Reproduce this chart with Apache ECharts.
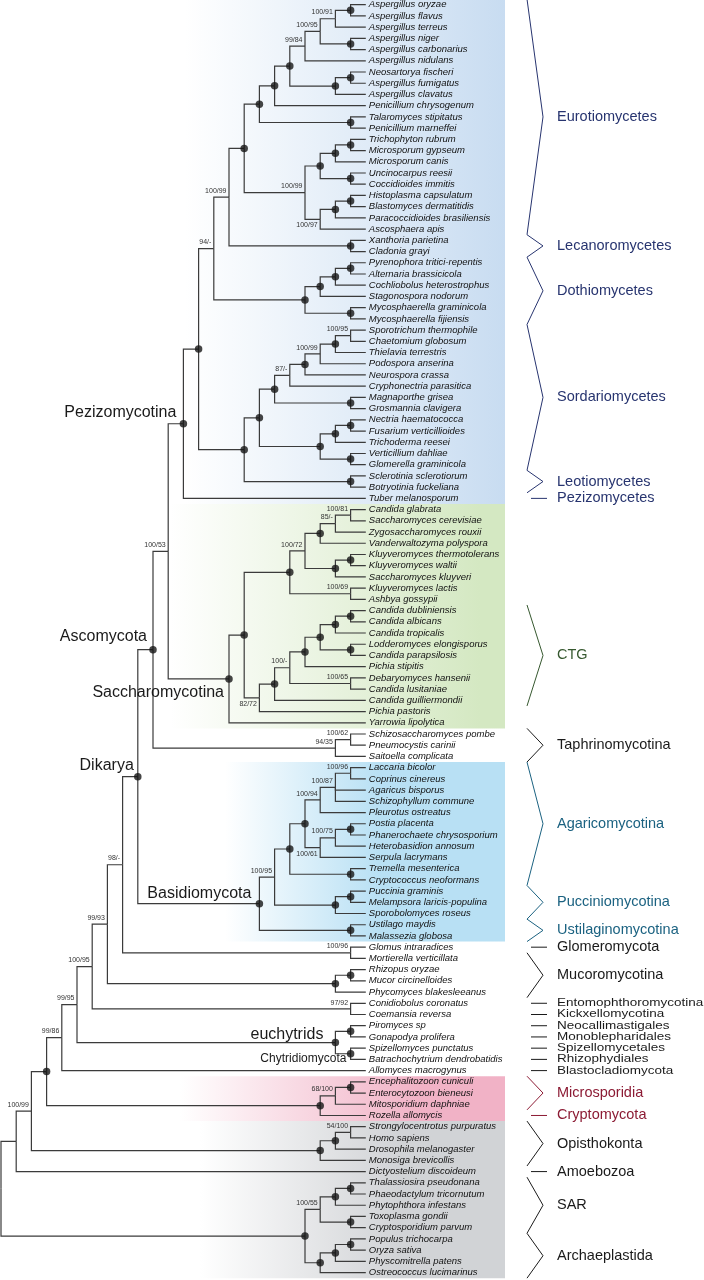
<!DOCTYPE html>
<html>
<head>
<meta charset="utf-8">
<script src="https://cdn.jsdelivr.net/npm/echarts@6/dist/echarts.min.js"></script>
<style>
  html, body { margin: 0; padding: 0; background: #fff; }
  #chart { width: 704px; height: 1280px; }
</style>
</head>
<body>
<div id="chart"></div>
<script>
// tip names, top to bottom
const species = [
  "Aspergillus oryzae", "Aspergillus flavus", "Aspergillus terreus", "Aspergillus niger",
  "Aspergillus carbonarius", "Aspergillus nidulans", "Neosartorya fischeri", "Aspergillus fumigatus",
  "Aspergillus clavatus", "Penicillium chrysogenum", "Talaromyces stipitatus", "Penicillium marneffei",
  "Trichophyton rubrum", "Microsporum gypseum", "Microsporum canis", "Uncinocarpus reesii",
  "Coccidioides immitis", "Histoplasma capsulatum", "Blastomyces dermatitidis", "Paracoccidioides brasiliensis",
  "Ascosphaera apis", "Xanthoria parietina", "Cladonia grayi", "Pyrenophora tritici-repentis",
  "Alternaria brassicicola", "Cochliobolus heterostrophus", "Stagonospora nodorum", "Mycosphaerella graminicola",
  "Mycosphaerella fijiensis", "Sporotrichum thermophile", "Chaetomium globosum", "Thielavia terrestris",
  "Podospora anserina", "Neurospora crassa", "Cryphonectria parasitica", "Magnaporthe grisea",
  "Grosmannia clavigera", "Nectria haematococca", "Fusarium verticillioides", "Trichoderma reesei",
  "Verticillium dahliae", "Glomerella graminicola", "Sclerotinia sclerotiorum", "Botryotinia fuckeliana",
  "Tuber melanosporum", "Candida glabrata", "Saccharomyces cerevisiae", "Zygosaccharomyces rouxii",
  "Vanderwaltozyma polyspora", "Kluyveromyces thermotolerans", "Kluyveromyces waltii", "Saccharomyces kluyveri",
  "Kluyveromyces lactis", "Ashbya gossypii", "Candida dubliniensis", "Candida albicans",
  "Candida tropicalis", "Lodderomyces elongisporus", "Candida parapsilosis", "Pichia stipitis",
  "Debaryomyces hansenii", "Candida lusitaniae", "Candida guilliermondii", "Pichia pastoris",
  "Yarrowia lipolytica", "Schizosaccharomyces pombe", "Pneumocystis carinii", "Saitoella complicata",
  "Laccaria bicolor", "Coprinus cinereus", "Agaricus bisporus", "Schizophyllum commune",
  "Pleurotus ostreatus", "Postia placenta", "Phanerochaete chrysosporium", "Heterobasidion annosum",
  "Serpula lacrymans", "Tremella mesenterica", "Cryptococcus neoformans", "Puccinia graminis",
  "Melampsora laricis-populina", "Sporobolomyces roseus", "Ustilago maydis", "Malassezia globosa",
  "Glomus intraradices", "Mortierella verticillata", "Rhizopus oryzae", "Mucor circinelloides",
  "Phycomyces blakesleeanus", "Conidiobolus coronatus", "Coemansia reversa", "Piromyces sp",
  "Gonapodya prolifera", "Spizellomyces punctatus", "Batrachochytrium dendrobatidis", "Allomyces macrogynus",
  "Encephalitozoon cuniculi", "Enterocytozoon bieneusi", "Mitosporidium daphniae", "Rozella allomycis",
  "Strongylocentrotus purpuratus", "Homo sapiens", "Drosophila melanogaster", "Monosiga brevicollis",
  "Dictyostelium discoideum", "Thalassiosira pseudonana", "Phaeodactylum tricornutum", "Phytophthora infestans",
  "Toxoplasma gondii", "Cryptosporidium parvum", "Populus trichocarpa", "Oryza sativa",
  "Physcomitrella patens", "Ostreococcus lucimarinus"
];

// cladogram in newick form: leaves are species indices, "(...)support:level"
// support "*" = filled dot, level = depth step of the node (tips sit at tipLevel)
const tipLevel = 24;
const eurotiales = "(((((((0,1)*:23,2)100/91:22,(3,4)*:23)100/95:21,5)99/84:20,((6,7)*:23,8)*:22)*:19,9)*:18,(10,11)*:23)*:17";
const onygenales = "((((12,13)*:23,14)*:22,(15,16)*:23)*:21,(((17,18)*:23,19)*:22,20)100/97:21)100/99:20";
const dothideo = "((((23,24)*:23,25)*:22,26)*:21,(27,28)*:23)*:20";
const sordario = "((((((29,30)100/95:23,31)*:22,32)100/99:21,33)*:20,34)87/-:19,(35,36)*:23)*:18";
const hypocreo = "(((37,38)*:23,39)*:22,(40,41)*:23)*:21";
const pezizo = `(((((${eurotiales},${onygenales})*:16,(21,22)*:23)100/99:15,${dothideo})94/-:14,((${sordario},${hypocreo})*:17,(42,43)*:23)*:16)*:13,44)*:12`;
const saccharo = "(((((45,46)100/81:23,47)85/-:22,48)*:21,((49,50)*:23,51)*:22)100/72:20,(52,53)100/69:23)*:19";
const ctg = "(((((((54,55)*:23,56)*:22,(57,58)*:23)*:21,59)*:20,(60,61)100/65:23)100/-:19,62)*:18,63)82/72:17";
const taphrino = "((65,66)100/62:23,67)94/35:22";
const ascomycota = `((${pezizo},((${saccharo},${ctg})*:16,64)*:15)100/53:11,${taphrino})*:10`;
const agarico = "(((((68,69)100/96:23,70,71)100/87:22,72)100/94:21,(((73,74)*:23,75)100/75:22,76)100/61:21)*:20,(77,78)*:23)*:19";
const basidio = `((${agarico},((79,80)*:23,81)*:22)100/95:18,(82,83)*:23)*:17`;
const fungi = `((((((${ascomycota},${basidio})*:9,(84,85)100/96:23)98/-:8,((86,87)*:23,88)*:22)99/93:7,(89,90)97/92:23)100/95:6,((91,92)*:23,(93,94)*:23)*:22)99/95:5,95)99/86:4`;
const micro = "(((96,97)*:23,98)68/100:22,99)*:21";
const opistho = "(((100,101)54/100:23,102)*:22,103)*:21";
const sarArch = "((((105,106)*:23,107)*:22,(108,109)*:23)100/55:21,(((110,111)*:23,112)*:22,113)*:21)*:20";
const tree = `((((${fungi},${micro})*:3,${opistho})100/99:2,104):1,${sarArch}):0`;

// named internal nodes: [name, first leaf, last leaf]
const groups = [
  ["Pezizomycotina", 0, 44], ["Ascomycota", 0, 67], ["Saccharomycotina", 45, 64],
  ["Dikarya", 0, 83], ["Basidiomycota", 68, 83], ["euchytrids", 91, 94], ["Chytridiomycota", 91, 94]
];

// right-hand classes: [name, first leaf, last leaf, colour group]
const classes = [
  ["Eurotiomycetes", 0, 20, "pez"], ["Lecanoromycetes", 21, 22, "pez"], ["Dothiomycetes", 23, 28, "pez"],
  ["Sordariomycetes", 29, 41, "pez"], ["Leotiomycetes", 42, 43, "pez"], ["Pezizomycetes", 44, 44, "pez"],
  ["CTG", 54, 62, "ctg"], ["Taphrinomycotina", 65, 67, "plain"],
  ["Agaricomycotina", 68, 78, "bas"], ["Pucciniomycotina", 79, 81, "bas"], ["Ustilaginomycotina", 82, 83, "bas"],
  ["Glomeromycota", 84, 84, "plain"], ["Mucoromycotina", 85, 88, "plain"],
  ["Entomophthoromycotina", 89, 89, "dense"], ["Kickxellomycotina", 90, 90, "dense"],
  ["Neocallimastigales", 91, 91, "dense"], ["Monoblepharidales", 92, 92, "dense"],
  ["Spizellomycetales", 93, 93, "dense"], ["Rhizophydiales", 94, 94, "dense"],
  ["Blastocladiomycota", 95, 95, "dense"], ["Microsporidia", 96, 98, "mic"], ["Cryptomycota", 99, 99, "mic"],
  ["Opisthokonta", 100, 103, "plain"], ["Amoebozoa", 104, 104, "plain"],
  ["SAR", 105, 109, "plain"], ["Archaeplastida", 110, 113, "plain"]
];

// shaded blocks: [first leaf, last leaf, colour group]
const shades = [[0, 44, "pez"], [45, 64, "sac"], [68, 83, "bas"], [96, 99, "mic"], [100, 113, "out"]];

// support values printed under their branch instead of above
const belowSupports = ["100/97", "82/72", "100/61"];

// ---- layout / style ----
const FONT = '"Liberation Sans", Arial, Helvetica, sans-serif';
const LEVEL_PX = 15.2, X0 = 1, ROW = 11.22, Y0 = 4.7;
const BOX_RIGHT = 505;
const LINE = "#3b3b3b";
const palette = { pez: "#27346f", ctg: "#36582f", bas: "#1b6281", mic: "#8c1b34", plain: "#1a1a1a", dense: "#1a1a1a" };
const shadeStyle = {
  pez: { color: "#c8dcf1", start: 185, solid: 505 },
  sac: { color: "#d4e8c2", start: 170, solid: 480 },
  bas: { color: "#b8e0f4", start: 225, solid: 380 },
  mic: { color: "#f1b2c6", start: 180, solid: 420 },
  out: { color: "#d1d3d6", start: 200, solid: 400 }
};
const groupStyle = {
  Pezizomycotina: { dx: -7, dy: -11, size: 16 },
  Ascomycota: { dx: -6, dy: -13, size: 16 },
  Saccharomycotina: { dx: -5, dy: 14, size: 16 },
  Dikarya: { dx: -4, dy: -11, size: 16 },
  Basidiomycota: { dx: -8, dy: -10, size: 16 },
  euchytrids: { dx: -12, dy: -8, size: 16 },
  Chytridiomycota: { dx: 11, dy: 16.5, size: 12 }
};

// ---- parse tree ----
function parseNewick(s) {
  s = s.replace(/\s+/g, "");
  let i = 0;
  function node() {
    if (s[i] === "(") {
      i++;
      const kids = [node()];
      while (s[i] === ",") { i++; kids.push(node()); }
      i++;
      let label = "";
      while (s[i] !== ":") label += s[i++];
      i++;
      let num = "";
      while (i < s.length && /[0-9.]/.test(s[i])) num += s[i++];
      return { kids, label, level: +num };
    }
    let num = "";
    while (/[0-9]/.test(s[i])) num += s[i++];
    return { leaf: +num, level: tipLevel };
  }
  return node();
}

const root = parseNewick(tree);
const internals = [];
const branches = [];
(function place(n) {
  if (n.kids) {
    n.kids.forEach(place);
    const a = n.kids[0], b = n.kids[n.kids.length - 1];
    n.y = (a.y + b.y) / 2;
    n.lo = a.lo; n.hi = b.hi;
    internals.push(n);
    n.kids.forEach((k) => branches.push([n.level, n.y, k.level, k.y]));
  } else {
    n.y = n.leaf; n.lo = n.hi = n.leaf;
  }
})(root);

const dots = internals.filter((n) => n.label === "*").map((n) => [n.level, n.y]);
const supports = internals.filter((n) => n.label && n.label !== "*");
const groupNodes = groups.map((g) => ({ name: g[0], node: internals.find((n) => n.lo === g[1] && n.hi === g[2]) }));

// ---- chart ----
const chart = echarts.init(document.getElementById("chart"), null, { renderer: "canvas" });

const text = (x, y, str, o, extra) => Object.assign({
  type: "text", x, y,
  style: Object.assign({ text: str, fontFamily: FONT, fill: "#1a1a1a", align: "left", verticalAlign: "middle" }, o)
}, extra);

chart.setOption({
  animation: false,
  grid: { left: 0, right: 0, top: 0, bottom: 0 },
  xAxis: { type: "value", show: false, min: -X0 / LEVEL_PX, max: (704 - X0) / LEVEL_PX },
  yAxis: { type: "value", show: false, inverse: true, min: -Y0 / ROW, max: (1280 - Y0) / ROW },
  series: [
    {
      type: "custom", silent: true, z: 1,
      data: shades.map((s) => [0, s[0]]),
      renderItem: (params, api) => {
        const s = shades[params.dataIndex];
        const st = shadeStyle[s[2]];
        const top = api.coord([0, s[0] - 0.5])[1];
        const bot = api.coord([0, s[1] + 0.5])[1];
        const off = (st.solid - st.start) / (BOX_RIGHT - st.start);
        return {
          type: "rect",
          shape: { x: st.start, y: top, width: BOX_RIGHT - st.start, height: bot - top },
          style: {
            fill: new echarts.graphic.LinearGradient(0, 0, 1, 0, [
              { offset: 0, color: "#ffffff" },
              { offset: off, color: st.color },
              { offset: 1, color: st.color }
            ])
          }
        };
      }
    },
    {
      type: "custom", silent: true, z: 2,
      data: branches,
      encode: { x: [0, 2], y: [1, 3] },
      renderItem: (params, api) => {
        const p = api.coord([api.value(0), api.value(1)]);
        const q = api.coord([api.value(0), api.value(3)]);
        const c = api.coord([api.value(2), api.value(3)]);
        return {
          type: "polyline",
          shape: { points: [p, q, c] },
          style: { stroke: LINE, lineWidth: 1.2, fill: null }
        };
      }
    },
    {
      type: "scatter", silent: true, z: 3,
      data: dots, symbol: "circle", symbolSize: 7.5,
      itemStyle: { color: "#161616" }
    },
    {
      type: "custom", silent: true, z: 4,
      data: supports.map((n) => [n.level, n.y]),
      renderItem: (params, api) => {
        const n = supports[params.dataIndex];
        const p = api.coord([n.level, n.y]);
        const below = belowSupports.includes(n.label);
        return text(p[0] - 2.5, p[1] + (below ? 6 : -6.3), n.label, { fontSize: 7, fill: "#333", align: "right" });
      }
    },
    {
      type: "custom", silent: true, z: 4,
      data: species.map((s, i) => [tipLevel, i]),
      renderItem: (params, api) => {
        const p = api.coord([tipLevel, params.dataIndex]);
        return text(p[0] + 3, p[1], species[params.dataIndex], { fontSize: 9.5, fontStyle: "italic", fill: "#111" });
      }
    },
    {
      type: "custom", silent: true, z: 4,
      data: groupNodes.map((g) => [g.node.level, g.node.y]),
      renderItem: (params, api) => {
        const g = groupNodes[params.dataIndex];
        const st = groupStyle[g.name];
        const p = api.coord([g.node.level, g.node.y]);
        return text(p[0] + st.dx, p[1] + st.dy, g.name, { fontSize: st.size, align: "right" });
      }
    },
    {
      type: "custom", silent: true, z: 4,
      data: classes.map((c) => [tipLevel, c[1]]),
      renderItem: (params, api) => {
        const c = classes[params.dataIndex];
        const col = palette[c[3]];
        const y0 = api.coord([0, c[1] - 0.5])[1];
        const y1 = api.coord([0, c[2] + 0.5])[1];
        const ym = api.coord([0, (c[1] + c[2]) / 2])[1];
        const mark = c[1] === c[2]
          ? { type: "line", shape: { x1: 531, y1: ym, x2: 547, y2: ym }, style: { stroke: col, lineWidth: 1 } }
          : { type: "polyline", shape: { points: [[527, y0], [543, ym], [527, y1]] }, style: { stroke: col, lineWidth: 1, fill: null } };
        const dense = c[3] === "dense";
        const label = text(557, ym, c[0], { fontSize: dense ? 13.5 : 14.5, fill: col }, dense ? { scaleY: 0.8 } : {});
        return { type: "group", children: [mark, label] };
      }
    }
  ]
});
</script>
</body>
</html>
